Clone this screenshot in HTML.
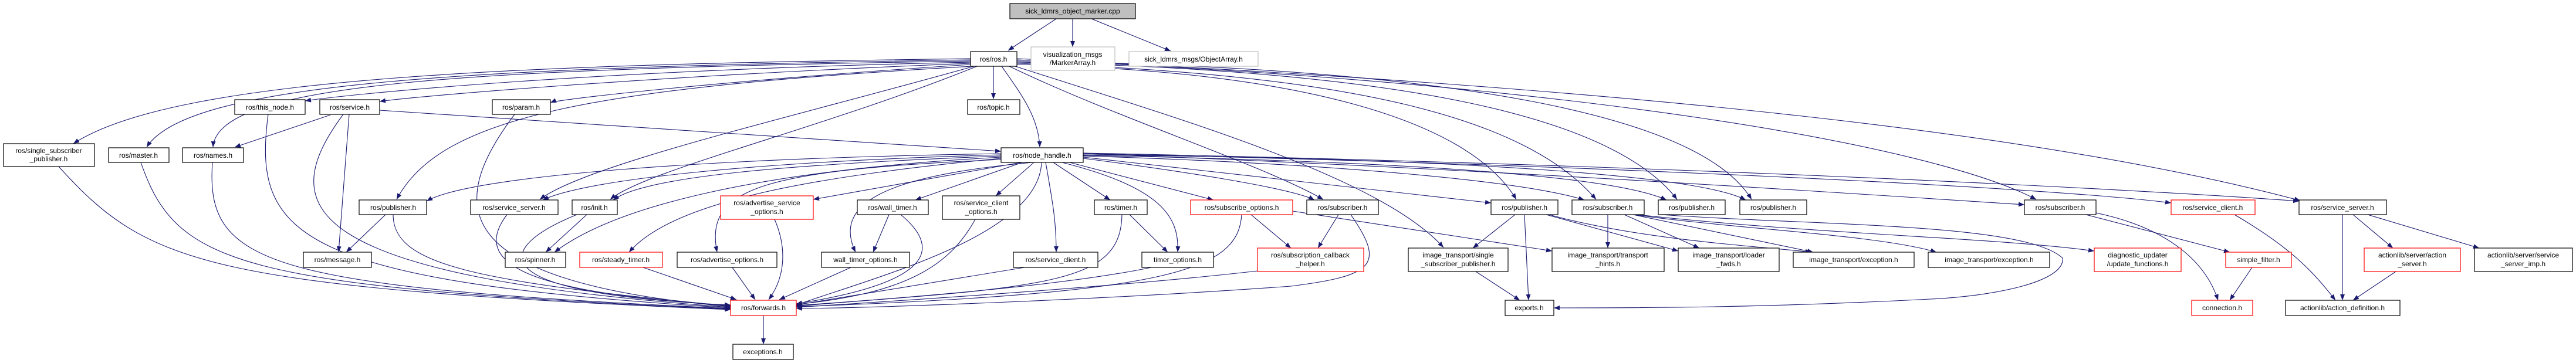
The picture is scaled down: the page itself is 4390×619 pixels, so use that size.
<!DOCTYPE html>
<html><head><meta charset="utf-8"><style>
html,body{margin:0;padding:0;background:#fff}
svg{display:block}
text{font-family:"Liberation Sans",sans-serif;font-size:12px;fill:#000}
.e{fill:none;stroke:#191970;stroke-width:1.1}
.b{fill:#fff;stroke:#000;stroke-width:1.2}
.r{fill:#fff;stroke:#ff0000;stroke-width:1.2}
.g{fill:#fff;stroke:#bfbfbf;stroke-width:1.2}
</style></head><body>
<svg width="4390" height="619" viewBox="0 0 4390 619" xmlns="http://www.w3.org/2000/svg">
<defs><marker id="a" markerUnits="userSpaceOnUse" markerWidth="10" markerHeight="8" refX="10" refY="4" orient="auto"><path d="M0,0 L10,4 L0,8 z" fill="#191970"/></marker></defs>
<g class="e" marker-end="url(#a)">
<path d="M1800 32 L1718 86"/><path d="M1828 32 L1828 80"/><path d="M1860 32 L1995 87"/>
<path d="M1654 100 C900 110,300 130,125 245"/>
<path d="M1654 102 C800 115,320 140,250 251"/>
<path d="M1654 104 C800 118,370 140,363 251"/>
<path d="M1654 106 C1000 120,600 160,520 172"/>
<path d="M1654 108 C1100 130,700 165,647 173"/>
<path d="M1654 110 C1200 140,950 170,938 175"/>
<path d="M1658 113 C1000 150,750 200,676 340"/>
<path d="M1660 113 C1350 200,1000 280,920 340"/>
<path d="M1665 113 C1400 220,1100 290,1040 340"/>
<path d="M1693 113 L1693 169"/>
<path d="M1707 113 C1740 160,1770 200,1772 251"/>
<path d="M1720 113 C1900 200,2150 280,2255 340"/>
<path d="M1730 113 C2000 200,2350 300,2460 422"/>
<path d="M1733 110 C2200 120,2500 200,2584 340"/>
<path d="M1733 108 C2300 125,2600 200,2720 340"/>
<path d="M1733 106 C2400 120,2750 200,2858 340"/>
<path d="M1733 104 C2500 115,2900 200,2985 340"/>
<path d="M1733 102 C2700 140,3300 250,3470 340"/>
<path d="M1733 100 C2800 150,3500 230,3920 342"/>
<path d="M1706 262 C1200 270,800 300,727 343"/>
<path d="M1706 264 C1300 275,1000 305,925 341"/>
<path d="M1706 266 C1350 280,1100 300,1045 341"/>
<path d="M1706 268 C1300 290,1050 350,945 430"/>
<path d="M1706 270 C1400 300,1150 340,1072 430"/>
<path d="M1706 272 C1300 290,1200 320,1222 430"/>
<path d="M1740 277 L1386 340"/>
<path d="M1742 277 L1560 341"/>
<path d="M1760 277 C1500 300,1420 350,1458 430"/>
<path d="M1762 277 L1697 334"/>
<path d="M1775 277 C1770 400,1500 470,1357 520"/>
<path d="M1782 277 C1795 350,1800 380,1800 430"/>
<path d="M1795 277 L1892 341"/>
<path d="M1810 277 C1980 320,2010 370,2007 430"/>
<path d="M1823 277 L2068 341"/>
<path d="M1846 270 C2000 290,2200 320,2240 341"/>
<path d="M1846 268 L2541 346"/>
<path d="M1846 266 C2300 280,2600 310,2700 341"/>
<path d="M1846 265 C2400 275,2750 300,2840 341"/>
<path d="M1846 264 C2500 270,2900 300,2975 341"/>
<path d="M1846 262 C2600 290,3300 340,3450 349"/>
<path d="M1846 262 C2700 280,3500 320,3700 346"/>
<path d="M1846 261 C2800 280,3600 320,3918 343"/>
<path d="M2203 360 L2645 428"/>
<path d="M100 284 C250 450,350 490,1245 528"/>
<path d="M240 277 C300 450,400 490,1245 527"/>
<path d="M362 277 C350 450,450 490,1245 526"/>
<path d="M457 195 C430 400,500 480,1245 525"/>
<path d="M585 195 C470 350,500 470,1245 524"/>
<path d="M563 196 L400 251"/>
<path d="M595 195 L577 430"/>
<path d="M647 188 L1706 258"/>
<path d="M877 195 C760 350,760 480,1245 523"/>
<path d="M657 366 L590 430"/>
<path d="M670 366 C670 450,800 480,1245 522"/>
<path d="M864 366 C800 450,900 500,1245 521"/>
<path d="M1000 366 L930 430"/>
<path d="M983 366 C850 420,800 500,1245 520"/>
<path d="M1096 456 L1255 511"/>
<path d="M1248 456 L1287 511"/>
<path d="M1320 374 C1340 420,1340 470,1310 511"/>
<path d="M1450 456 L1328 511"/>
<path d="M1515 366 L1488 430"/>
<path d="M1535 366 C1600 420,1600 480,1357 518"/>
<path d="M1662 374 C1620 450,1550 500,1357 519"/>
<path d="M1746 456 L1357 520"/>
<path d="M1925 366 L1990 430"/>
<path d="M1912 366 C1910 480,1800 490,1357 521"/>
<path d="M1962 456 C1800 490,1500 510,1357 522"/>
<path d="M2132 366 L2200 423"/>
<path d="M2116 366 C2110 460,2000 500,1357 523"/>
<path d="M2143 462 C1900 490,1500 515,1357 524"/>
<path d="M2281 366 L2246 423"/>
<path d="M2302 366 C2360 450,2345 470,2200 488 C1900 510,1500 525,1357 526"/>
<path d="M1301 538 L1301 587"/>
<path d="M2582 366 L2510 423"/>
<path d="M2598 366 L2605 512"/>
<path d="M2635 366 L2860 428"/>
<path d="M2640 366 C2800 410,3000 420,3087 430"/>
<path d="M2740 366 L2740 423"/>
<path d="M2768 366 L2896 423"/>
<path d="M2783 366 L3090 430"/>
<path d="M2785 366 C2950 390,3200 400,3300 430"/>
<path d="M2790 366 C3100 400,3400 405,3569 428"/>
<path d="M2830 366 C3100 385,3450 380,3515 440 C3520 480,3400 505,3290 510 C3000 525,2800 525,2648 525"/>
<path d="M2515 463 L2590 512"/>
<path d="M3572 363 C3700 390,3760 450,3780 512"/>
<path d="M3555 366 L3800 430"/>
<path d="M3838 456 L3800 512"/>
<path d="M3808 366 C3900 420,3940 460,3980 512"/>
<path d="M3992 366 L3992 512"/>
<path d="M4010 366 L4078 423"/>
<path d="M4035 366 L4225 423"/>
<path d="M4083 463 L4010 512"/>
</g>
<g text-anchor="middle">
<rect x="1721" y="6" width="214" height="26" fill="#bfbfbf" stroke="#000" stroke-width="1.2"/><text x="1828" y="23">sick_ldmrs_object_marker.cpp</text>
<rect class="b" x="1654" y="88" width="79" height="25"/><text x="1693" y="105">ros/ros.h</text>
<rect class="g" x="1757" y="80" width="143" height="40"/><text x="1828" y="97">visualization_msgs</text><text x="1828" y="111">/MarkerArray.h</text>
<rect class="g" x="1924" y="88" width="220" height="25"/><text x="2034" y="105">sick_ldmrs_msgs/ObjectArray.h</text>
<rect class="b" x="6" y="245" width="155" height="39"/><text x="83" y="261">ros/single_subscriber</text><text x="83" y="275">_publisher.h</text>
<rect class="b" x="185" y="252" width="103" height="25"/><text x="236" y="269">ros/master.h</text>
<rect class="b" x="311" y="252" width="104" height="25"/><text x="363" y="269">ros/names.h</text>
<rect class="b" x="400" y="170" width="120" height="25"/><text x="460" y="187">ros/this_node.h</text>
<rect class="b" x="545" y="170" width="102" height="25"/><text x="596" y="187">ros/service.h</text>
<rect class="b" x="839" y="170" width="99" height="25"/><text x="888" y="187">ros/param.h</text>
<rect class="b" x="1649" y="170" width="89" height="25"/><text x="1693" y="187">ros/topic.h</text>
<rect class="b" x="1706" y="252" width="140" height="25"/><text x="1776" y="269">ros/node_handle.h</text>
<rect class="b" x="612" y="341" width="115" height="25"/><text x="670" y="358">ros/publisher.h</text>
<rect class="b" x="802" y="341" width="149" height="25"/><text x="876" y="358">ros/service_server.h</text>
<rect class="b" x="975" y="341" width="77" height="25"/><text x="1013" y="358">ros/init.h</text>
<rect class="b" x="517" y="430" width="116" height="26"/><text x="575" y="447">ros/message.h</text>
<rect class="b" x="861" y="430" width="103" height="26"/><text x="912" y="447">ros/spinner.h</text>
<rect class="r" x="988" y="430" width="141" height="26"/><text x="1058" y="447">ros/steady_timer.h</text>
<rect class="r" x="1228" y="334" width="158" height="40"/><text x="1307" y="350">ros/advertise_service</text><text x="1307" y="365">_options.h</text>
<rect class="b" x="1461" y="341" width="121" height="25"/><text x="1521" y="358">ros/wall_timer.h</text>
<rect class="b" x="1606" y="334" width="132" height="40"/><text x="1672" y="350">ros/service_client</text><text x="1672" y="365">_options.h</text>
<rect class="b" x="1865" y="341" width="90" height="25"/><text x="1910" y="358">ros/timer.h</text>
<rect class="r" x="2029" y="341" width="174" height="25"/><text x="2116" y="358">ros/subscribe_options.h</text>
<rect class="b" x="1154" y="430" width="170" height="26"/><text x="1239" y="447">ros/advertise_options.h</text>
<rect class="b" x="1400" y="430" width="150" height="26"/><text x="1475" y="447">wall_timer_options.h</text>
<rect class="b" x="1727" y="430" width="144" height="26"/><text x="1799" y="447">ros/service_client.h</text>
<rect class="b" x="1946" y="430" width="122" height="26"/><text x="2007" y="447">timer_options.h</text>
<rect class="r" x="2143" y="423" width="181" height="40"/><text x="2233" y="439">ros/subscription_callback</text><text x="2233" y="454">_helper.h</text>
<rect class="r" x="1245" y="512" width="112" height="26"/><text x="1301" y="529">ros/forwards.h</text>
<rect class="b" x="1249" y="587" width="103" height="26"/><text x="1300" y="604">exceptions.h</text>
<rect class="b" x="2227" y="341" width="122" height="25"/><text x="2288" y="358">ros/subscriber.h</text>
<rect class="b" x="2541" y="341" width="114" height="25"/><text x="2598" y="358">ros/publisher.h</text>
<rect class="b" x="2679" y="341" width="123" height="25"/><text x="2740" y="358">ros/subscriber.h</text>
<rect class="b" x="2826" y="341" width="114" height="25"/><text x="2883" y="358">ros/publisher.h</text>
<rect class="b" x="2965" y="341" width="114" height="25"/><text x="3022" y="358">ros/publisher.h</text>
<rect class="b" x="2400" y="423" width="170" height="40"/><text x="2485" y="439">image_transport/single</text><text x="2485" y="454">_subscriber_publisher.h</text>
<rect class="b" x="2645" y="423" width="191" height="40"/><text x="2740" y="439">image_transport/transport</text><text x="2740" y="454">_hints.h</text>
<rect class="b" x="2860" y="423" width="172" height="40"/><text x="2946" y="439">image_transport/loader</text><text x="2946" y="454">_fwds.h</text>
<rect class="b" x="3056" y="430" width="206" height="26"/><text x="3159" y="447">image_transport/exception.h</text>
<rect class="b" x="3286" y="430" width="207" height="26"/><text x="3390" y="447">image_transport/exception.h</text>
<rect class="b" x="2565" y="512" width="83" height="26"/><text x="2606" y="529">exports.h</text>
<rect class="b" x="3450" y="341" width="122" height="25"/><text x="3511" y="358">ros/subscriber.h</text>
<rect class="r" x="3700" y="341" width="143" height="25"/><text x="3771" y="358">ros/service_client.h</text>
<rect class="b" x="3918" y="341" width="149" height="25"/><text x="3992" y="358">ros/service_server.h</text>
<rect class="r" x="3569" y="423" width="148" height="40"/><text x="3643" y="439">diagnostic_updater</text><text x="3643" y="454">/update_functions.h</text>
<rect class="r" x="3793" y="430" width="112" height="26"/><text x="3849" y="447">simple_filter.h</text>
<rect class="r" x="4029" y="423" width="164" height="40"/><text x="4111" y="439">actionlib/server/action</text><text x="4111" y="454">_server.h</text>
<rect class="b" x="4217" y="423" width="167" height="40"/><text x="4300" y="439">actionlib/server/service</text><text x="4300" y="454">_server_imp.h</text>
<rect class="r" x="3735" y="512" width="104" height="26"/><text x="3787" y="529">connection.h</text>
<rect class="b" x="3895" y="512" width="195" height="26"/><text x="3992" y="529">actionlib/action_definition.h</text>
</g>
</svg>
</body></html>
